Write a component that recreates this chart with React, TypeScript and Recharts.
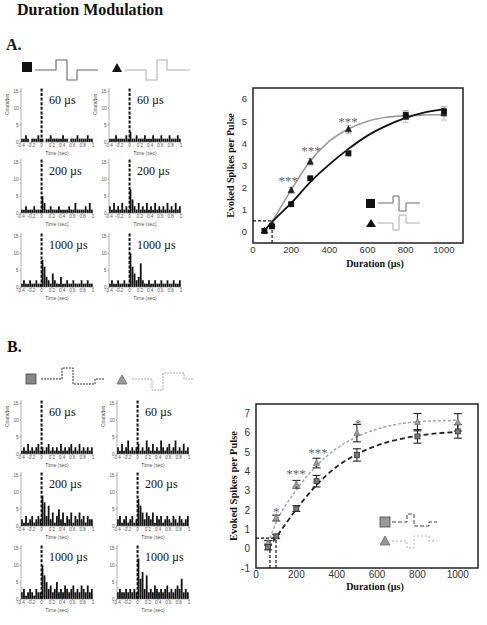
import React from "react";
import {
  Bar,
  BarChart,
  ComposedChart,
  ErrorBar,
  Line,
  ReferenceArea,
  ReferenceLine,
  Scatter,
  XAxis,
  YAxis,
} from "recharts";

const serif = '"Liberation Serif", "Times New Roman", serif';
const sans = '"Liberation Sans", Arial, sans-serif';

// PSTH bin centres (sec), 40 ms bins from -0.4 to 1.0
const binCenters = [
  -0.38, -0.34, -0.3, -0.26, -0.22, -0.18, -0.14, -0.1, -0.06, -0.02,
  0.02, 0.06, 0.1, 0.14, 0.18, 0.22, 0.26, 0.3, 0.34, 0.38,
  0.42, 0.46, 0.5, 0.54, 0.58, 0.62, 0.66, 0.7, 0.74, 0.78,
  0.82, 0.86, 0.9, 0.94, 0.98,
];
const psthTicks = [-0.4, -0.2, 0, 0.2, 0.4, 0.6, 0.8, 1];

// panel A spike counts per bin
const a60Square = [1, 1, 2, 1, 0, 1, 1, 1, 2, 1, 1, 0, 1, 1, 2, 1, 1, 1, 1, 1, 2, 1, 1, 0, 1, 1, 1, 2, 1, 1, 1, 1, 2, 1, 1];
const a60Tri = [1, 1, 1, 2, 1, 1, 1, 1, 2, 1, 3, 1, 1, 2, 1, 1, 1, 2, 1, 1, 1, 2, 1, 1, 1, 2, 1, 1, 1, 2, 1, 1, 1, 2, 1];
const a200Square = [1, 1, 2, 1, 1, 1, 2, 1, 1, 1, 5, 3, 1, 1, 2, 1, 1, 1, 2, 1, 1, 1, 1, 2, 1, 1, 3, 1, 1, 1, 1, 2, 1, 3, 1];
const a200Tri = [2, 1, 3, 1, 2, 1, 3, 1, 2, 1, 7, 4, 2, 1, 3, 1, 2, 1, 3, 1, 2, 1, 3, 1, 2, 1, 2, 1, 3, 1, 2, 1, 3, 1, 2];
const a1000Square = [1, 2, 1, 1, 2, 1, 1, 2, 1, 1, 8, 6, 3, 2, 1, 4, 2, 1, 1, 3, 1, 1, 2, 1, 1, 2, 1, 1, 1, 2, 1, 1, 2, 1, 1];
const a1000Tri = [1, 2, 1, 1, 2, 1, 1, 2, 1, 1, 10, 6, 4, 2, 3, 7, 2, 1, 1, 2, 1, 1, 2, 1, 1, 2, 1, 1, 2, 1, 1, 2, 1, 1, 2];

// panel B spike counts per bin
const b60Square = [1, 2, 1, 3, 1, 2, 1, 2, 3, 1, 2, 1, 2, 3, 1, 2, 1, 2, 1, 3, 1, 2, 1, 2, 3, 1, 2, 1, 3, 1, 2, 1, 2, 1, 2];
const b60Tri = [2, 1, 3, 1, 2, 4, 1, 2, 1, 2, 3, 1, 2, 1, 4, 2, 1, 3, 1, 2, 1, 4, 2, 1, 2, 3, 1, 2, 4, 1, 2, 1, 3, 1, 2];
const b200Square = [2, 1, 3, 1, 2, 3, 1, 2, 3, 2, 9, 7, 3, 6, 2, 4, 1, 3, 5, 2, 4, 1, 3, 2, 4, 1, 3, 2, 4, 2, 3, 1, 3, 2, 2];
const b200Tri = [2, 3, 1, 2, 3, 1, 2, 3, 1, 2, 8, 6, 4, 2, 4, 3, 2, 4, 1, 3, 2, 3, 1, 2, 3, 2, 1, 3, 2, 1, 3, 2, 1, 2, 3];
const b1000Square = [2, 3, 1, 2, 3, 2, 1, 3, 2, 2, 10, 7, 5, 3, 4, 2, 3, 5, 2, 3, 2, 4, 3, 2, 3, 4, 2, 3, 2, 4, 3, 2, 4, 2, 3];
const b1000Tri = [2, 3, 2, 2, 3, 2, 3, 2, 3, 2, 12, 6, 8, 3, 7, 2, 3, 2, 4, 3, 2, 3, 2, 3, 4, 2, 3, 2, 3, 4, 3, 6, 2, 3, 2];

// dose-response: durations (µs), means and SEMs
const durations = [60, 100, 200, 300, 500, 800, 1000];
const aSquareMean = [0.05, 0.25, 1.25, 2.42, 3.55, 5.28, 5.45];
const aSquareErr = [0.08, 0.08, 0.08, 0.1, 0.12, 0.2, 0.2];
const aTriMean = [0.05, 0.35, 1.88, 3.17, 4.63, 5.2, 5.35];
const aTriErr = [0.08, 0.1, 0.12, 0.15, 0.18, 0.25, 0.3];
const bSquareMean = [0.09, 0.64, 2.08, 3.5, 4.86, 5.82, 6.08];
const bSquareErr = [0.15, 0.1, 0.15, 0.3, 0.32, 0.35, 0.35];
const bTriMean = [0.3, 1.59, 3.34, 4.44, 5.99, 6.56, 6.55];
const bTriErr = [0.12, 0.15, 0.2, 0.25, 0.45, 0.45, 0.45];

// fitted curves
const fitDur = [60, 100, 200, 300, 400, 500, 600, 700, 800, 900, 1000];
const aSquareFit = [0.05, 0.45, 1.3, 2.25, 3.05, 3.75, 4.35, 4.8, 5.15, 5.4, 5.55];
const aTriFitDur = [100, 200, 300, 400, 500, 600, 700, 800, 900, 1000];
const aTriFit = [0.45, 1.9, 3.2, 4.1, 4.65, 5.0, 5.18, 5.25, 5.28, 5.3];
const bSquareFit = [0.05, 0.6, 2.05, 3.3, 4.25, 4.9, 5.35, 5.65, 5.85, 5.98, 6.05];
const bTriFit = [0.3, 1.35, 3.05, 4.3, 5.2, 5.8, 6.2, 6.45, 6.58, 6.63, 6.66];

// significance marks
const aStarX = [185, 304, 498];
const aStarY = [2.45, 3.8, 5.1];
const aStarText = ["***", "***", "***"];
const bStarX = [100, 198, 307, 505];
const bStarY = [2.05, 4.06, 5.14, 6.64];
const bStarText = ["*", "***", "***", "*"];

const pts = (xs: number[], ys: number[], es?: number[]) =>
  xs.map((x, i) => ({ x, y: ys[i], err: es ? es[i] : 0 }));
const stars = (xs: number[], ys: number[], t: string[]) =>
  xs.map((x, i) => ({ x, y: ys[i], mark: t[i] }));

const squareShape = (fill: string, stroke: string, s: number) => (p: any) => (
  <rect x={p.cx - s / 2} y={p.cy - s / 2} width={s} height={s} fill={fill} stroke={stroke} strokeWidth={0.8} />
);
const triShape = (fill: string, stroke: string, s: number) => (p: any) => (
  <polygon
    points={`${p.cx},${p.cy - s * 0.6} ${p.cx - s / 2},${p.cy + s * 0.4} ${p.cx + s / 2},${p.cy + s * 0.4}`}
    fill={fill}
    stroke={stroke}
    strokeWidth={0.8}
  />
);
const starShape = (size: number) => (p: any) => (
  <text x={p.cx} y={p.cy + size * 0.55} textAnchor="middle" fontSize={size} fill="#666" fontFamily={serif}>
    {p.payload.mark}
  </text>
);

function Psth({ left, zero, counts, label, yLabel }: { left: number; zero: number; counts: number[]; label: string; yLabel?: boolean }) {
  const data = binCenters.map((t, i) => ({ t, n: counts[i] }));
  const dashX = left + (0.4 / 1.4) * 72;
  return (
    <>
      <div style={{ position: "absolute", left: left - 18, top: zero - 54 }}>
        <BarChart width={94} height={68} data={data} margin={{ top: 0, right: 4, left: 0, bottom: 0 }}>
          <XAxis
            dataKey="t"
            type="number"
            domain={[-0.4, 1]}
            ticks={psthTicks}
            interval={0}
            height={14}
            stroke="#777"
            strokeWidth={0.6}
            tickSize={1.5}
            tickMargin={0.5}
            tick={{ fontSize: 4.5, fill: "#555", fontFamily: sans }}
            label={{ value: "Time (sec)", position: "insideBottom", offset: 1, fontSize: 5, fill: "#555", fontFamily: sans }}
          />
          <YAxis
            domain={[0, 16]}
            ticks={[0, 5, 10, 15]}
            width={18}
            stroke="#777"
            strokeWidth={0.6}
            tickSize={1.5}
            tickMargin={1}
            tick={{ fontSize: 4.5, fill: "#555", fontFamily: sans }}
            label={
              yLabel
                ? { value: "Count/bin", angle: -90, position: "insideLeft", offset: 4, fontSize: 5, fill: "#555", fontFamily: sans }
                : undefined
            }
          />
          <Bar dataKey="n" fill="#111" barSize={1.8} isAnimationActive={false} />
          <ReferenceLine x={0} stroke="#111" strokeWidth={2} strokeDasharray="3 1.6" />
        </BarChart>
      </div>
      <div
        style={{
          position: "absolute",
          left: dashX + 7.5,
          top: zero - 48,
          fontFamily: serif,
          fontSize: 12,
          lineHeight: "12px",
          color: "#111",
          whiteSpace: "nowrap",
        }}
      >
        {label}
      </div>
    </>
  );
}

const tickStyle = { fontSize: 9.5, fill: "#333", fontFamily: sans };
const axisLabelStyle = { fontFamily: serif, fontWeight: "bold", fontSize: 10, fill: "#111" };

function DoseA() {
  return (
    <div style={{ position: "absolute", left: 213, top: 80 }}>
      <ComposedChart width={257} height={183} margin={{ top: 8, right: 7, left: 0, bottom: 0 }}>
        <XAxis dataKey="x" type="number" domain={[0, 1100]} ticks={[0, 200, 400, 600, 800, 1000]} axisLine={false} tickLine={false} tickSize={0} tickMargin={3} height={20} tick={tickStyle} />
        <YAxis
          dataKey="y"
          type="number"
          domain={[-0.5, 6.5]}
          ticks={[0, 1, 2, 3, 4, 5, 6]}
          axisLine={false}
          tickLine={false}
          tickSize={0}
          tickMargin={6}
          width={40}
          tick={tickStyle}
          label={{ value: "Evoked Spikes per Pulse", angle: -90, position: "insideLeft", offset: 17, style: { ...axisLabelStyle, textAnchor: "middle" } }}
        />
        <ReferenceLine segment={[{ x: 0, y: 0.5 }, { x: 100, y: 0.5 }]} stroke="#111" strokeWidth={1.2} strokeDasharray="3 2" />
        <ReferenceLine segment={[{ x: 100, y: -0.5 }, { x: 100, y: 0.5 }]} stroke="#111" strokeWidth={1.2} strokeDasharray="3 2" />
        <Line data={pts(aTriFitDur, aTriFit)} dataKey="y" type="monotone" stroke="#9a9a9a" strokeWidth={1.6} dot={false} isAnimationActive={false} />
        <Line data={pts(fitDur, aSquareFit)} dataKey="y" type="monotone" stroke="#111" strokeWidth={1.8} dot={false} isAnimationActive={false} />
        <Scatter data={pts(durations, aTriMean, aTriErr)} shape={triShape("#222", "#222", 6)} isAnimationActive={false}>
          <ErrorBar dataKey="err" direction="y" width={3} stroke="#aaa" strokeWidth={0.8} />
        </Scatter>
        <Scatter data={pts(durations, aSquareMean, aSquareErr)} shape={squareShape("#111", "#111", 5)} isAnimationActive={false}>
          <ErrorBar dataKey="err" direction="y" width={3} stroke="#aaa" strokeWidth={0.8} />
        </Scatter>
        <Scatter data={stars(aStarX, aStarY, aStarText)} shape={starShape(13)} isAnimationActive={false} />
        <ReferenceArea x1={0} x2={1100} y1={-0.5} y2={6.5} fill="none" stroke="#222" strokeWidth={1.5} />
      </ComposedChart>
    </div>
  );
}

function DoseB() {
  return (
    <div style={{ position: "absolute", left: 216, top: 396 }}>
      <ComposedChart width={269} height={192} margin={{ top: 8, right: 7, left: 0, bottom: 0 }}>
        <XAxis dataKey="x" type="number" domain={[0, 1100]} ticks={[0, 200, 400, 600, 800, 1000]} axisLine={false} tickLine={false} tickSize={0} tickMargin={3} height={20} tick={{ ...tickStyle, fontSize: 10 }} />
        <YAxis
          dataKey="y"
          type="number"
          domain={[-1, 7.5]}
          ticks={[-1, 0, 1, 2, 3, 4, 5, 6, 7]}
          axisLine={false}
          tickLine={false}
          tickSize={0}
          tickMargin={6}
          width={40}
          tick={{ ...tickStyle, fontSize: 10 }}
          label={{ value: "Evoked Spikes per Pulse", angle: -90, position: "insideLeft", offset: 17, style: { ...axisLabelStyle, fontSize: 10.5, textAnchor: "middle" } }}
        />
        <ReferenceLine segment={[{ x: 0, y: 0.55 }, { x: 100, y: 0.55 }]} stroke="#111" strokeWidth={1.2} strokeDasharray="3 2" />
        <ReferenceLine segment={[{ x: 69, y: -1 }, { x: 69, y: 0.55 }]} stroke="#111" strokeWidth={1.2} strokeDasharray="3 2" />
        <ReferenceLine segment={[{ x: 99, y: -1 }, { x: 99, y: 0.55 }]} stroke="#111" strokeWidth={1.2} strokeDasharray="3 2" />
        <Line data={pts(fitDur, bTriFit)} dataKey="y" type="monotone" stroke="#a5a5a5" strokeWidth={1.5} strokeDasharray="3 2" dot={false} isAnimationActive={false} />
        <Line data={pts(fitDur, bSquareFit)} dataKey="y" type="monotone" stroke="#222" strokeWidth={1.8} strokeDasharray="5 3" dot={false} isAnimationActive={false} />
        <Scatter data={pts(durations, bTriMean, bTriErr)} shape={triShape("#9a9a9a", "#777", 6)} isAnimationActive={false}>
          <ErrorBar dataKey="err" direction="y" width={4} stroke="#222" strokeWidth={1.1} />
        </Scatter>
        <Scatter data={pts(durations, bSquareMean, bSquareErr)} shape={squareShape("#777", "#333", 5)} isAnimationActive={false}>
          <ErrorBar dataKey="err" direction="y" width={4} stroke="#222" strokeWidth={1.1} />
        </Scatter>
        <Scatter data={stars(bStarX, bStarY, bStarText)} shape={starShape(13)} isAnimationActive={false} />
        <ReferenceArea x1={0} x2={1100} y1={-1} y2={7.5} fill="none" stroke="#222" strokeWidth={1.5} />
      </ComposedChart>
    </div>
  );
}

// pulse glyphs used as keys
function Glyphs() {
  return (
    <svg width={487} height={625} style={{ position: "absolute", left: 0, top: 0, pointerEvents: "none" }}>
      {/* panel A header */}
      <rect x={22} y={62} width={10} height={10} fill="#111" />
      <path d="M35 70 H56 V60 H67 V80 H77 V70 H98" fill="none" stroke="#666" strokeWidth={1.1} />
      <polygon points="117,63 112,72 122,72" fill="#111" />
      <path d="M125 70 H146 V80 H157 V60 H167 V70 H190" fill="none" stroke="#b0b0b0" strokeWidth={1.1} />
      {/* panel A key */}
      <rect x={366} y={199} width={9} height={9} fill="#111" />
      <path d="M378 203 H393 V196 H399 V211 H406 V203 H420" fill="none" stroke="#666" strokeWidth={1} />
      <polygon points="371,219 366,227 376,227" fill="#111" />
      <path d="M378 223 H393 V230 H399 V215 H406 V223 H420" fill="none" stroke="#aaa" strokeWidth={1} />
      {/* panel B header */}
      <rect x={26} y={374} width={10} height={10} fill="#888" stroke="#444" strokeWidth={0.8} />
      <path d="M41 379 H62 V368 H73 V384 H95 V379 H105" fill="none" stroke="#333" strokeWidth={1} strokeDasharray="2 1" />
      <polygon points="122,375 117,384 127,384" fill="#999" stroke="#666" strokeWidth={0.8} />
      <path d="M132 379 H152 V390 H163 V373 H184 V379 H193" fill="none" stroke="#aaa" strokeWidth={1} strokeDasharray="2 1" />
      {/* panel B key */}
      <rect x={380} y={517} width={10} height={10} fill="#999" stroke="#444" strokeWidth={0.8} />
      <path d="M392 522 H407 V514 H414 V526 H429 V522 H437" fill="none" stroke="#444" strokeWidth={1} strokeDasharray="4 2" />
      <polygon points="385,536 380,545 390,545" fill="#999" stroke="#666" strokeWidth={0.8} />
      <path d="M392 541 H407 V548 H414 V536 H429 V541 H437" fill="none" stroke="#aaa" strokeWidth={1} strokeDasharray="2 2" />
    </svg>
  );
}

const heading = { position: "absolute" as const, fontFamily: serif, fontWeight: "bold", color: "#111", whiteSpace: "nowrap" as const };
const xLabel = { ...heading, width: 100, textAlign: "center" as const, fontSize: 10, lineHeight: "10px" };

export default function App() {
  return (
    <div style={{ position: "absolute", left: 0, top: 0, width: 487, height: 625, background: "#fff", overflow: "hidden" }}>
      <div style={{ ...heading, left: 17, top: 2, fontSize: 16, lineHeight: "16px" }}>Duration Modulation</div>
      <div style={{ ...heading, left: 6, top: 37, fontSize: 16, lineHeight: "16px" }}>A.</div>
      <div style={{ ...heading, left: 7, top: 339, fontSize: 16, lineHeight: "16px" }}>B.</div>

      <Psth left={21} zero={142} counts={a60Square} label="60 µs" yLabel />
      <Psth left={109} zero={142} counts={a60Tri} label="60 µs" yLabel />
      <Psth left={21} zero={213} counts={a200Square} label="200 µs" />
      <Psth left={109} zero={213} counts={a200Tri} label="200 µs" />
      <Psth left={21} zero={287} counts={a1000Square} label="1000 µs" />
      <Psth left={109} zero={287} counts={a1000Tri} label="1000 µs" />

      <Psth left={21} zero={454} counts={b60Square} label="60 µs" yLabel />
      <Psth left={117} zero={454} counts={b60Tri} label="60 µs" yLabel />
      <Psth left={21} zero={526} counts={b200Square} label="200 µs" />
      <Psth left={117} zero={526} counts={b200Tri} label="200 µs" />
      <Psth left={21} zero={599} counts={b1000Square} label="1000 µs" />
      <Psth left={117} zero={599} counts={b1000Tri} label="1000 µs" />

      <DoseA />
      <DoseB />
      <div style={{ ...xLabel, left: 325, top: 259 }}>Duration (µs)</div>
      <div style={{ ...xLabel, left: 325, top: 582 }}>Duration (µs)</div>

      <Glyphs />
    </div>
  );
}
